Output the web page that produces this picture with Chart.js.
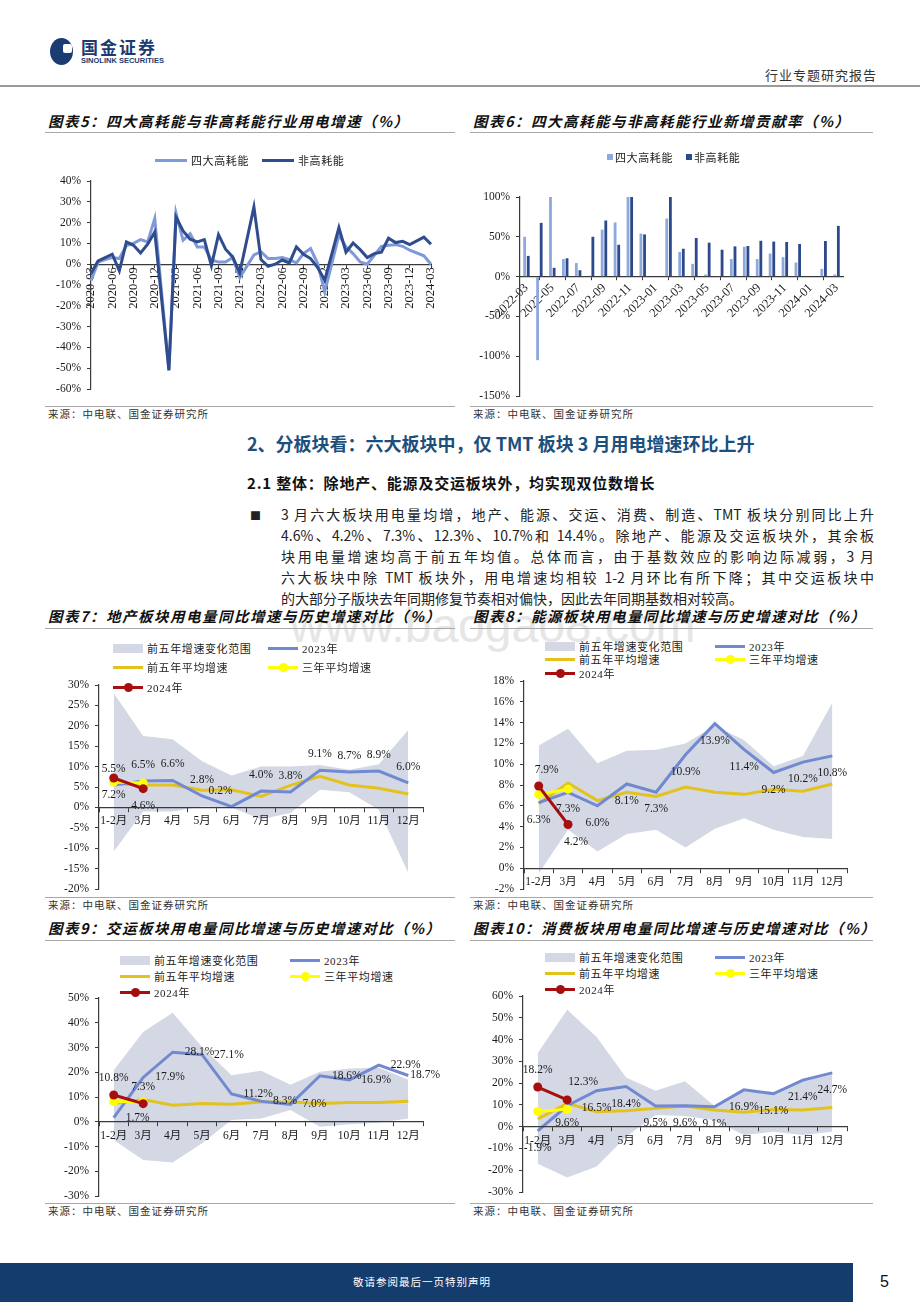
<!DOCTYPE html>
<html>
<head>
<meta charset="utf-8">
<script src="https://cdn.jsdelivr.net/npm/chart.js@4.4.1/dist/chart.umd.min.js"></script>
<style>
  body { margin: 0; background: #fff; }
  #page { position: relative; width: 920px; height: 1302px; overflow: hidden; font-family: 'Noto Sans CJK SC', sans-serif; color: #222; }
  .abs { position: absolute; white-space: nowrap; }
  canvas { position: absolute; }
  .title { font-weight: 700; font-style: italic; font-size: 14.5px; letter-spacing: 1.5px; line-height: 20px; color: #111; }
  .src { font-size: 10.5px; letter-spacing: 1px; line-height: 14px; color: #333; }
  .rule { position: absolute; height: 1px; background: #a8a8a8; }
  .para { position: absolute; left: 281px; width: 593px; font-size: 14px; line-height: 20px; text-align: justify; text-align-last: justify; color: #222; }
  .lg { position: absolute; display: flex; align-items: center; height: 16px; white-space: nowrap; font-family: 'Liberation Serif', 'Noto Sans CJK SC', serif; font-size: 11px; letter-spacing: 0.6px; color: #222; }
  .lg .s { position: relative; margin-right: 4px; flex: none; }
</style>
</head>
<body>
<div id="page">
  <div class="abs" style="left:290px;top:602px;font-family:'Liberation Sans',sans-serif;font-size:48px;line-height:48px;color:#e6e6e6">www.baogao8.com</div>

  <div class="abs" style="left:50px;top:38px;width:23px;height:27px;border-radius:50%;background:#1a3c70"></div>
  <div class="abs" style="left:63px;top:44px;width:9px;height:9px;border-radius:2px;background:#fff"></div>
  <div class="abs" style="left:81px;top:36px;font-size:17px;font-weight:700;letter-spacing:2px;line-height:22px;color:#1a3c70">国金证券</div>
  <div class="abs" style="left:81px;top:56px;font-family:'Liberation Sans',sans-serif;font-size:7.5px;font-weight:700;line-height:10px;color:#1a3c70">SINOLINK SECURITIES</div>
  <div class="abs" style="left:765px;top:66px;font-size:13px;letter-spacing:1px;line-height:18px;color:#333">行业专题研究报告</div>
  <div class="rule" style="left:0;top:85px;width:920px;height:1.5px;background:#9a9a9a"></div>

  <div class="abs title" style="left:48px;top:111px">图表5：四大高耗能与非高耗能行业用电增速（%）</div>
  <div class="abs title" style="left:473px;top:111px">图表6：四大高耗能与非高耗能行业新增贡献率（%）</div>
  <div class="rule" style="left:45px;top:132px;width:410px"></div>
  <div class="rule" style="left:470px;top:132px;width:403px"></div>
  <div class="rule" style="left:45px;top:406px;width:410px"></div>
  <div class="rule" style="left:470px;top:406px;width:403px"></div>
  <div class="abs src" style="left:48px;top:407px">来源：中电联、国金证券研究所</div>
  <div class="abs src" style="left:473px;top:407px">来源：中电联、国金证券研究所</div>

  <div class="abs" style="left:247px;top:431px;font-size:18px;font-weight:700;line-height:24px;color:#1d4f7c">2、分板块看：六大板块中，仅 TMT 板块 3 月用电增速环比上升</div>
  <div class="abs" style="left:247px;top:472px;font-size:15px;font-weight:700;letter-spacing:0.8px;line-height:22px;color:#111">2.1 整体：除地产、能源及交运板块外，均实现双位数增长</div>
  <div class="abs" style="left:250px;top:505px;font-size:11px;line-height:20px">■</div>
  <div class="para" style="top:504px">3 月六大板块用电量均增，地产、能源、交运、消费、制造、TMT 板块分别同比上升</div>
  <div class="para" style="top:525px">4.6%、4.2%、7.3%、12.3%、10.7%和 14.4%。除地产、能源及交运板块外，其余板</div>
  <div class="para" style="top:546px">块用电量增速均高于前五年均值。总体而言，由于基数效应的影响边际减弱，3 月</div>
  <div class="para" style="top:567px">六大板块中除 TMT 板块外，用电增速均相较 1-2 月环比有所下降；其中交运板块中</div>
  <div class="para" style="top:588px;text-align-last:left">的大部分子版块去年同期修复节奏相对偏快，因此去年同期基数相对较高。</div>

  <div class="abs title" style="left:48px;top:606px">图表7：地产板块用电量同比增速与历史增速对比（%）</div>
  <div class="abs title" style="left:473px;top:606px">图表8：能源板块用电量同比增速与历史增速对比（%）</div>
  <div class="rule" style="left:45px;top:628px;width:410px"></div>
  <div class="rule" style="left:470px;top:628px;width:403px"></div>
  <div class="rule" style="left:45px;top:897px;width:410px"></div>
  <div class="rule" style="left:470px;top:897px;width:403px"></div>
  <div class="abs src" style="left:48px;top:898px">来源：中电联、国金证券研究所</div>
  <div class="abs src" style="left:473px;top:898px">来源：中电联、国金证券研究所</div>

  <div class="abs title" style="left:48px;top:918px">图表9：交运板块用电量同比增速与历史增速对比（%）</div>
  <div class="abs title" style="left:473px;top:918px">图表10：消费板块用电量同比增速与历史增速对比（%）</div>
  <div class="rule" style="left:45px;top:940px;width:410px"></div>
  <div class="rule" style="left:470px;top:940px;width:403px"></div>
  <div class="rule" style="left:45px;top:1203px;width:410px"></div>
  <div class="rule" style="left:470px;top:1203px;width:403px"></div>
  <div class="abs src" style="left:48px;top:1204px">来源：中电联、国金证券研究所</div>
  <div class="abs src" style="left:473px;top:1204px">来源：中电联、国金证券研究所</div>

  <div class="abs" style="left:0;top:1263px;width:853px;height:39px;background:#143c6c"></div>
  <div class="abs" style="left:353px;top:1274px;font-size:10.5px;letter-spacing:1px;line-height:16px;color:#fff">敬请参阅最后一页特别声明</div>
  <div class="abs" style="left:880px;top:1272px;font-family:'Liberation Sans',sans-serif;font-size:16px;line-height:20px;color:#111">5</div>

  <canvas id="c5"></canvas>
  <canvas id="c6"></canvas>
  <canvas id="c7"></canvas>
  <canvas id="c8"></canvas>
  <canvas id="c9"></canvas>
  <canvas id="c10"></canvas>
</div>

<script>
// 图表5：月度用电增速（%），1月与2月合并公布，1月为空
const months5 = [
  '2020-03', '2020-04', '2020-05', '2020-06', '2020-07', '2020-08', '2020-09', '2020-10', '2020-11', '2020-12',
  '2021-01', '2021-02', '2021-03', '2021-04', '2021-05', '2021-06', '2021-07', '2021-08', '2021-09', '2021-10', '2021-11', '2021-12',
  '2022-01', '2022-02', '2022-03', '2022-04', '2022-05', '2022-06', '2022-07', '2022-08', '2022-09', '2022-10', '2022-11', '2022-12',
  '2023-01', '2023-02', '2023-03', '2023-04', '2023-05', '2023-06', '2023-07', '2023-08', '2023-09', '2023-10', '2023-11', '2023-12',
  '2024-01', '2024-02', '2024-03',
]
const highEnergy5 = [
  -8, 1, 2.2, 3.2, 2.7, 9, 10, 11.8, 10.7, 22,
  null, -51, 24.6, 11.5, 14.7, 8.3, 8.3, 2, 1, 1, 3.2, -6.4,
  null, 4.5, 6, 2.7, 2.7, 3.2, 2.2, 0.6, 5.1, 7.5, 0.3, -13.3,
  null, 14, 8.3, 5.1, 1.1, 0, 4.3, 8.6, 9.1, 9.4, 8.6, 6.7,
  null, 4, 0,
]
const otherIndustry5 = [
  -4.5, 1.6, 3.2, 4.8, -3.2, 10.7, 9.1, 5.4, 9.6, 15.5,
  null, -51, 22.7, 16, 12, 10.7, 11.8, -0.8, 14.2, 7.2, 3.5, -4.2,
  null, 27.5, 2.2, -1, 0, 2, 0.6, 8.3, 4.8, 2.7, -1.6, -7.7,
  null, 17.6, 5.8, 10.2, 7, 3.2, 5.1, 5.8, 12.5, 10.4, 11, 9.4,
  null, 13, 9.6,
]

// 图表6：新增贡献率（%）
const months6 = [
  '2022-03', '2022-04', '2022-05', '2022-06', '2022-07', '2022-08', '2022-09', '2022-10', '2022-11', '2022-12',
  '2023-01', '2023-02', '2023-03', '2023-04', '2023-05', '2023-06', '2023-07', '2023-08', '2023-09', '2023-10', '2023-11', '2023-12',
  '2024-01', '2024-02', '2024-03',
]
const highShare6 = [50, -105, 100, 22, 17, 1, 59, 68, 100, 54, null, 73, 31, 16, 2.5, 0.5, 22, 37.5, 22, 29, 24.5, 17.7, null, 9.7, 2.5]
const otherShare6 = [26, 67.5, 11, 23, 8, 50, 70.5, 40, 100, 53, null, 100, 35, 48.5, 42.6, 33.8, 38, 38.4, 45, 44, 43.5, 41, null, 44.7, 63.7]

// 图表7-10：分板块同比增速（%）
const monthCats = ['1-2月', '3月', '4月', '5月', '6月', '7月', '8月', '9月', '10月', '11月', '12月']

const estateHi = [28, 17.5, 16.7, 11.3, 7.8, 10, 10, 10.4, 9.2, 10.6, 19]
const estateLo = [-10.8, -1, -1, 0.2, 0, -2.9, -1.4, 4.3, 3.7, -0.6, -16]
const estate2023 = [5.5, 6.5, 6.6, 2.8, 0.2, 4.0, 3.8, 9.1, 8.7, 8.9, 6.0]
const estateAvg5 = [5.8, 5.5, 5.5, 4.2, 4.3, 2.7, 5.4, 7.6, 5.5, 4.7, 3.3]
const estateAvg3 = [6.2, 6.0]
const estate2024 = [7.2, 4.6]

const energyHi = [11.8, 13.4, 10.1, 11.3, 11.4, 12, 13.7, 12.3, 9.8, 10.8, 15.9]
const energyLo = [-0.5, 3.7, 1.6, 3.3, 3.7, 2.0, 3.8, 4.8, 3.7, 3.0, 2.8]
const energy2023 = [6.3, 7.3, 6.0, 8.1, 7.3, 10.9, 13.9, 11.4, 9.2, 10.2, 10.8]
const energyAvg5 = [6.2, 8.2, 6.5, 7.3, 6.9, 7.8, 7.3, 7.1, 7.6, 7.4, 8.1]
const energyAvg3 = [7.1, 7.6]
const energy2024 = [7.9, 4.2]

const transportHi = [20.8, 36.3, 44, 30.2, 18.8, 20.6, 15, 20.2, 21.5, 21.8, 17]
const transportLo = [-7.4, -15.5, -16.5, -8.7, 0.7, 1.3, 4.7, -2.0, -1, -0.4, 1.3]
const transport2023 = [1.7, 17.9, 28.1, 27.1, 11.2, 8.3, 7.0, 18.6, 16.9, 22.9, 18.7]
const transportAvg5 = [7.4, 9, 6.7, 7.4, 7.1, 8, 8, 7.4, 7.8, 7.8, 8.3]
const transportAvg3 = [8.2, 8.0]
const transport2024 = [10.8, 7.3]

const consumerHi = [33.8, 53.7, 41.2, 22.6, 16.5, 20.9, 9.5, 17, 16, 21, 24]
const consumerLo = [-17, -23.3, -18.3, -4.6, 5.3, 4.9, 3, -3.8, -2.3, -3.8, -2.3]
const consumer2023 = [-1.9, 9.6, 16.5, 18.4, 9.5, 9.6, 9.1, 16.9, 15.1, 21.4, 24.7]
const consumerAvg5 = [3.5, 10.7, 6.9, 7.3, 8.4, 9.5, 7.6, 6.6, 7.9, 7.6, 8.8]
const consumerAvg3 = [7.0, 8.0]
const consumer2024 = [18.2, 12.3]

const AXIS = '#3a3a3a'
const LIGHT = '#7f9ad6'
const DARK = '#2f4d8e'
const BAR_LIGHT = '#8eaadd'
const BAR_DARK = '#2c4a8b'
const BAND = 'rgb(211,216,228)'
const BLUE = '#7189d1'
const GOLD = '#e3c21e'
const YELLOW = '#ffff00'
const RED = '#a70f0f'

Chart.defaults.font.family = "'Liberation Serif', 'Noto Sans CJK SC', serif"
Chart.defaults.font.size = 11.5
Chart.defaults.color = '#1a1a1a'
Chart.defaults.animation = false
Chart.defaults.plugins.legend.display = false
Chart.defaults.plugins.tooltip.enabled = false

const YW = 50
const PAD = { left: 0, top: 14, right: 24, bottom: 14 }

// Size the canvas so the plot area lands on the given page box
function place(id, area) {
  const c = document.getElementById(id)
  const left = area.l - YW - PAD.left
  const top = area.t - PAD.top
  const w = area.r - left + PAD.right
  const h = area.b - top + PAD.bottom
  c.width = w
  c.height = h
  c.style.left = left + 'px'
  c.style.top = top + 'px'
  c.style.width = w + 'px'
  c.style.height = h + 'px'
  return c
}

const axisY = (min, max, step) => ({
  min,
  max,
  ticks: { stepSize: step, padding: 6, callback: (v) => v + '%' },
  grid: { drawOnChartArea: false, tickLength: 4, color: AXIS },
  border: { color: AXIS, width: 1.2 },
  afterFit: (s) => { s.width = YW },
})

const axisX = (extra) => ({
  position: { y: 0 },
  grid: { drawOnChartArea: false, tickLength: 4, color: AXIS },
  border: { color: AXIS, width: 1.2 },
  afterFit: (s) => { s.height = 0 },
  ...extra,
})

// Writes value labels next to points, offsets come from dataset.valueLabels
const valueLabels = {
  id: 'valueLabels',
  afterDatasetsDraw(chart) {
    const ctx = chart.ctx
    ctx.save()
    ctx.font = "11.5px 'Liberation Serif', serif"
    ctx.fillStyle = '#1a1a1a'
    ctx.textBaseline = 'middle'
    chart.data.datasets.forEach((ds, i) => {
      const spec = ds.valueLabels
      if (!spec) return
      chart.getDatasetMeta(i).data.forEach((pt, j) => {
        const v = ds.data[j]
        if (v == null) return
        const [dx, dy, align] = Array.isArray(spec[0]) ? spec[j] : spec
        ctx.textAlign = align || 'center'
        ctx.fillText(v.toFixed(1) + '%', pt.x + dx, pt.y + dy)
      })
    })
    ctx.restore()
  },
}

function addLegend(items) {
  const page = document.getElementById('page')
  for (const it of items) {
    const row = document.createElement('div')
    row.className = 'lg'
    row.style.left = it.x + 'px'
    row.style.top = (it.y - 8) + 'px'
    const s = document.createElement('span')
    s.className = 's'
    const w = it.w || 30
    if (it.kind === 'band') {
      s.style.cssText = `width:${w}px;height:9px;background:${BAND}`
    } else if (it.kind === 'square') {
      s.style.cssText = `width:6px;height:6px;background:${it.color};margin-right:2px`
    } else {
      s.style.cssText = `width:${w}px;height:3px;background:${it.color}`
      if (it.kind === 'dot') {
        const d = document.createElement('span')
        d.style.cssText = `position:absolute;left:${w / 2 - 4.5}px;top:-3px;width:9px;height:9px;border-radius:50%;background:${it.color}`
        s.appendChild(d)
      }
    }
    row.appendChild(s)
    row.appendChild(document.createTextNode(it.text))
    page.appendChild(row)
  }
}

// 图表5
new Chart(place('c5', { l: 91, t: 181, r: 431, b: 389 }), {
  type: 'line',
  data: {
    labels: months5,
    datasets: [
      { label: '非高耗能', data: otherIndustry5, borderColor: DARK, borderWidth: 3, pointRadius: 0, spanGaps: true },
      { label: '四大高耗能', data: highEnergy5, borderColor: LIGHT, borderWidth: 3, pointRadius: 0, spanGaps: true },
    ],
  },
  options: {
    responsive: false,
    devicePixelRatio: 1,
    layout: { padding: PAD },
    scales: {
      x: axisX({
        offset: false,
        grid: { drawOnChartArea: false, tickLength: 3, color: AXIS },
        ticks: {
          autoSkip: false,
          minRotation: 90,
          maxRotation: 90,
          padding: 0,
          font: { size: 12.5 },
          callback: function (v, i) { return i % 3 === 0 ? this.getLabelForValue(v) : null },
        },
      }),
      y: axisY(-60, 40, 10),
    },
  },
})
addLegend([
  { x: 155, y: 160, kind: 'line', color: LIGHT, w: 32, text: '四大高耗能' },
  { x: 262, y: 160, kind: 'line', color: DARK, w: 32, text: '非高耗能' },
])

// 图表6
new Chart(place('c6', { l: 520, t: 197, r: 843, b: 396 }), {
  type: 'bar',
  data: {
    labels: months6,
    datasets: [
      { label: '四大高耗能', data: highShare6, backgroundColor: BAR_LIGHT, barPercentage: 0.78, categoryPercentage: 0.56 },
      { label: '非高耗能', data: otherShare6, backgroundColor: BAR_DARK, barPercentage: 0.78, categoryPercentage: 0.56 },
    ],
  },
  options: {
    responsive: false,
    devicePixelRatio: 1,
    layout: { padding: PAD },
    scales: {
      x: axisX({
        grid: { drawOnChartArea: false, tickLength: 3, color: AXIS, offset: true },
        ticks: {
          autoSkip: false,
          minRotation: 45,
          maxRotation: 45,
          padding: 1,
          font: { size: 12.5 },
          callback: function (v, i) { return i % 2 === 0 ? this.getLabelForValue(v) : null },
        },
      }),
      y: axisY(-150, 100, 50),
    },
  },
})
addLegend([
  { x: 607, y: 157, kind: 'square', color: BAR_LIGHT, text: '四大高耗能' },
  { x: 686, y: 157, kind: 'square', color: BAR_DARK, text: '非高耗能' },
])

// 图表7-10：区间带 + 折线
function rangeChart(id, area, yr, s, lab) {
  return new Chart(place(id, area), {
    type: 'line',
    data: {
      labels: monthCats,
      datasets: [
        { label: '2024年', data: s.y2024, borderColor: RED, backgroundColor: RED, borderWidth: 3, pointRadius: 4.5, pointBorderWidth: 0, valueLabels: lab.y2024 },
        { label: '三年平均增速', data: s.avg3, borderColor: YELLOW, backgroundColor: YELLOW, borderWidth: 3, pointRadius: 4.5, pointBorderWidth: 0 },
        { label: '2023年', data: s.y2023, borderColor: BLUE, borderWidth: 3, pointRadius: 0, valueLabels: lab.y2023 },
        { label: '前五年平均增速', data: s.avg5, borderColor: GOLD, borderWidth: 3, pointRadius: 0 },
        { label: '前五年增速变化范围', data: s.hi, borderWidth: 0, borderColor: BAND, backgroundColor: BAND, pointRadius: 0, fill: '+1' },
        { label: '', data: s.lo, borderWidth: 0, borderColor: BAND, pointRadius: 0, fill: false },
      ],
    },
    options: {
      responsive: false,
      devicePixelRatio: 1,
      layout: { padding: PAD },
      scales: {
        // x axis sits on 0% and is drawn above the band
        x: axisX({
          offset: true,
          grid: { drawOnChartArea: false, tickLength: 4, color: AXIS, offset: true, z: 1 },
          border: { color: AXIS, width: 1.2, z: 1 },
          ticks: { autoSkip: false, maxRotation: 0, minRotation: 0, padding: 3, z: 1 },
        }),
        y: axisY(yr[0], yr[1], yr[2]),
      },
    },
    plugins: [valueLabels],
  })
}

function rangeLegend(x1, x2, ys) {
  addLegend([
    { x: x1, y: ys[0], kind: 'band', text: '前五年增速变化范围' },
    { x: x2, y: ys[0], kind: 'line', color: BLUE, text: '2023年' },
    { x: x1, y: ys[1], kind: 'line', color: GOLD, text: '前五年平均增速' },
    { x: x2, y: ys[1], kind: 'dot', color: YELLOW, text: '三年平均增速' },
    { x: x1, y: ys[2], kind: 'dot', color: RED, text: '2024年' },
  ])
}

const above = [0, -16]
const right = [12, 0, 'left']

rangeChart('c7', { l: 99, t: 685, r: 423, b: 889 }, [-20, 30, 5],
  { hi: estateHi, lo: estateLo, y2023: estate2023, avg5: estateAvg5, avg3: estateAvg3, y2024: estate2024 },
  { y2023: [above, above, above, above, [-11, -16], above, above, above, above, above, above], y2024: [0, 17] })
rangeLegend(113, 268, [648, 667, 687])

rangeChart('c8', { l: 524, t: 681, r: 847, b: 889 }, [-2, 18, 2],
  { hi: energyHi, lo: energyLo, y2023: energy2023, avg5: energyAvg5, avg3: energyAvg3, y2024: energy2024 },
  { y2023: [0, 17], y2024: [[8, -16], [8, 17]] })
rangeLegend(545, 715, [646, 659, 673])

rangeChart('c9', { l: 99, t: 998, r: 423, b: 1196 }, [-30, 50, 10],
  { hi: transportHi, lo: transportLo, y2023: transport2023, avg5: transportAvg5, avg3: transportAvg3, y2024: transport2024 },
  { y2023: [right, right, right, right, right, right, right, right, right, right, [2, 0, 'left']], y2024: [0, -17] })
rangeLegend(120, 290, [960, 976, 992])

rangeChart('c10', { l: 523, t: 996, r: 847, b: 1192 }, [-30, 60, 10],
  { hi: consumerHi, lo: consumerLo, y2023: consumer2023, avg5: consumerAvg5, avg3: consumerAvg3, y2024: consumer2024 },
  { y2023: [0, 17], y2024: [[0, -17], [16, -18]] })
rangeLegend(545, 715, [957, 973, 989])
</script>
</body>
</html>
